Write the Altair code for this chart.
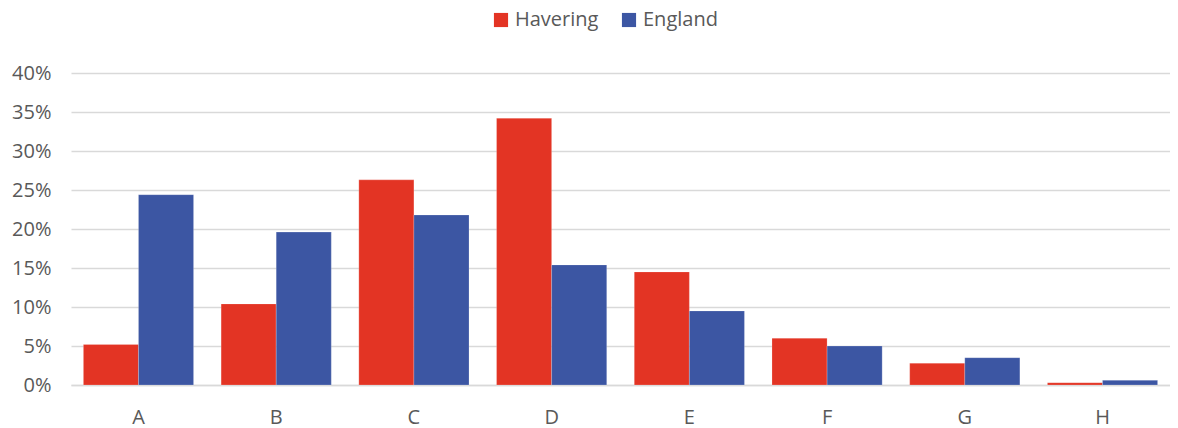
import altair as alt
import pandas as pd

categories = ["A", "B", "C", "D", "E", "F", "G", "H"]
havering = [5.2, 10.4, 26.3, 34.2, 14.5, 6.0, 2.8, 0.3]
england = [24.4, 19.6, 21.8, 15.4, 9.5, 5.0, 3.5, 0.6]
series = ["Havering", "England"]
colors = ["#E33424", "#3C56A3"]

rows = []
for c, h, e in zip(categories, havering, england):
    rows.append({"cat": c, "series": "Havering", "value": h / 100})
    rows.append({"cat": c, "series": "England", "value": e / 100})
df = pd.DataFrame(rows)

font = "Open Sans"
text_color = "#595959"

chart = alt.Chart(df).mark_bar(stroke="white", strokeWidth=0.5, strokeOpacity=0.4).encode(
    x=alt.X("cat:N", sort=categories, title=None,
            scale=alt.Scale(paddingInner=0.2, paddingOuter=0.09),
            axis=alt.Axis(labelAngle=0, ticks=False, domain=True, domainColor="#d9d9d9",
                          domainWidth=1.5, labelFontSize=20, labelColor=text_color,
                          labelFont=font, labelPadding=22, grid=False)),
    xOffset=alt.XOffset("series:N", sort=series),
    y=alt.Y("value:Q", title=None,
            scale=alt.Scale(domain=[0, 0.4], nice=False),
            axis=alt.Axis(format=".0%", values=[0, 0.05, 0.1, 0.15, 0.2, 0.25, 0.3, 0.35, 0.4],
                          ticks=False, domain=False, gridColor="#d9d9d9", gridWidth=1.5,
                          labelFontSize=20, labelColor=text_color, labelFont=font,
                          labelPadding=20)),
    color=alt.Color("series:N", sort=series,
                    scale=alt.Scale(domain=series, range=colors),
                    legend=alt.Legend(title=None, orient="none", direction="horizontal",
                                      legendX=420, legendY=-63, symbolType="square",
                                      symbolSize=200, symbolStrokeWidth=0,
                                      labelFontSize=20, labelColor=text_color,
                                      labelFont=font, columnPadding=20, labelOffset=4)),
).properties(
    width=1099, height=312,
    autosize=alt.AutoSizeParams(type="none"),
    padding={"left": 63, "top": 65, "right": 0, "bottom": 45},
).configure_view(stroke=None)

chart.save("out.html", embed_options={"renderer": "svg", "actions": False})
